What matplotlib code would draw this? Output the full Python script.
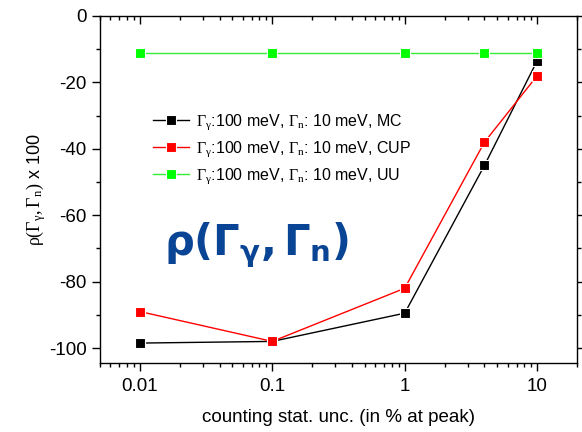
import numpy as np
import matplotlib.pyplot as plt
from matplotlib.ticker import LogLocator, FixedLocator, NullFormatter

plt.rcParams['font.family'] = ['Liberation Sans', 'DejaVu Sans']
plt.rcParams['axes.unicode_minus'] = False
plt.rcParams['mathtext.fontset'] = 'custom'
plt.rcParams['mathtext.rm'] = 'Liberation Serif'
plt.rcParams['mathtext.it'] = 'Liberation Serif'
plt.rcParams['mathtext.bf'] = 'DejaVu Sans:bold'

# data
unc = [0.01, 0.1, 1, 4, 10]
rho_mc = [-98.5, -98, -89.5, -45, -13.5]
rho_cup = [-89, -98, -82, -38, -18]
rho_uu = [-11, -11, -11, -11, -11]

lab_mc = r'$\Gamma_\gamma$:100 meV, $\Gamma_n$: 10 meV, MC'
lab_cup = r'$\Gamma_\gamma$:100 meV, $\Gamma_n$: 10 meV, CUP'
lab_uu = r'$\Gamma_\gamma$:100 meV, $\Gamma_n$: 10 meV, UU'

fig = plt.figure(figsize=(5.82, 4.32), dpi=100)
ax = fig.add_axes([100 / 582, 69 / 432, 477 / 582, 347 / 432])

kw = dict(marker='s', markersize=6.5, markeredgecolor='white', markeredgewidth=0.8, lw=1)
ax.plot(unc, rho_mc, color='black', label=lab_mc, **kw)
ax.plot(unc, rho_cup, color='red', label=lab_cup, **kw)
ax.plot(unc, rho_uu, color='#33ee33', markerfacecolor='#00ff00', label=lab_uu, **kw)

ax.set_xscale('log')
ax.set_xlim(0.005, 20)
ax.set_ylim(-104.5, 0)
ax.set_xticks([0.01, 0.1, 1, 10])
ax.set_xticklabels(['0.01', '0.1', '1', '10'])
ax.xaxis.set_minor_locator(LogLocator(base=10, subs=np.arange(2, 10)))
ax.xaxis.set_minor_formatter(NullFormatter())
ax.set_yticks([0, -20, -40, -60, -80, -100])
ax.yaxis.set_minor_locator(FixedLocator([-10, -30, -50, -70, -90]))

ax.tick_params(which='both', direction='out', labelsize=13.5, width=1)
ax.tick_params(which='major', length=6)
ax.tick_params(which='minor', length=3)
ax.tick_params(axis='x', which='major', pad=5)
ax.tick_params(which='both', top=True, right=True)

# Origin style: top/right ticks point inward
for t in ax.xaxis.get_major_ticks() + ax.xaxis.get_minor_ticks():
    t.tick2line.set_marker(3)
for t in ax.yaxis.get_major_ticks() + ax.yaxis.get_minor_ticks():
    t.tick2line.set_marker(1)

for s in ax.spines.values():
    s.set_linewidth(1)

ax.set_xlabel('counting stat. unc. (in % at peak)', fontsize=13.5, labelpad=10)
ax.set_ylabel(r'$\rho(\Gamma_\gamma,\Gamma_n)$ x 100', fontsize=13, labelpad=1)

ax.legend(loc='upper left', bbox_to_anchor=(0.08, 0.765), frameon=False,
          fontsize=11.5, handlelength=2.3, handletextpad=0.4, labelspacing=0.48)

ax.text(0.135, 0.31, r'$\mathbf{\rho(\Gamma_{\gamma},\Gamma_{n})}$', transform=ax.transAxes,
        fontsize=30, color='#0a4595', ha='left', va='baseline')

fig.savefig('out.png', dpi=100)
